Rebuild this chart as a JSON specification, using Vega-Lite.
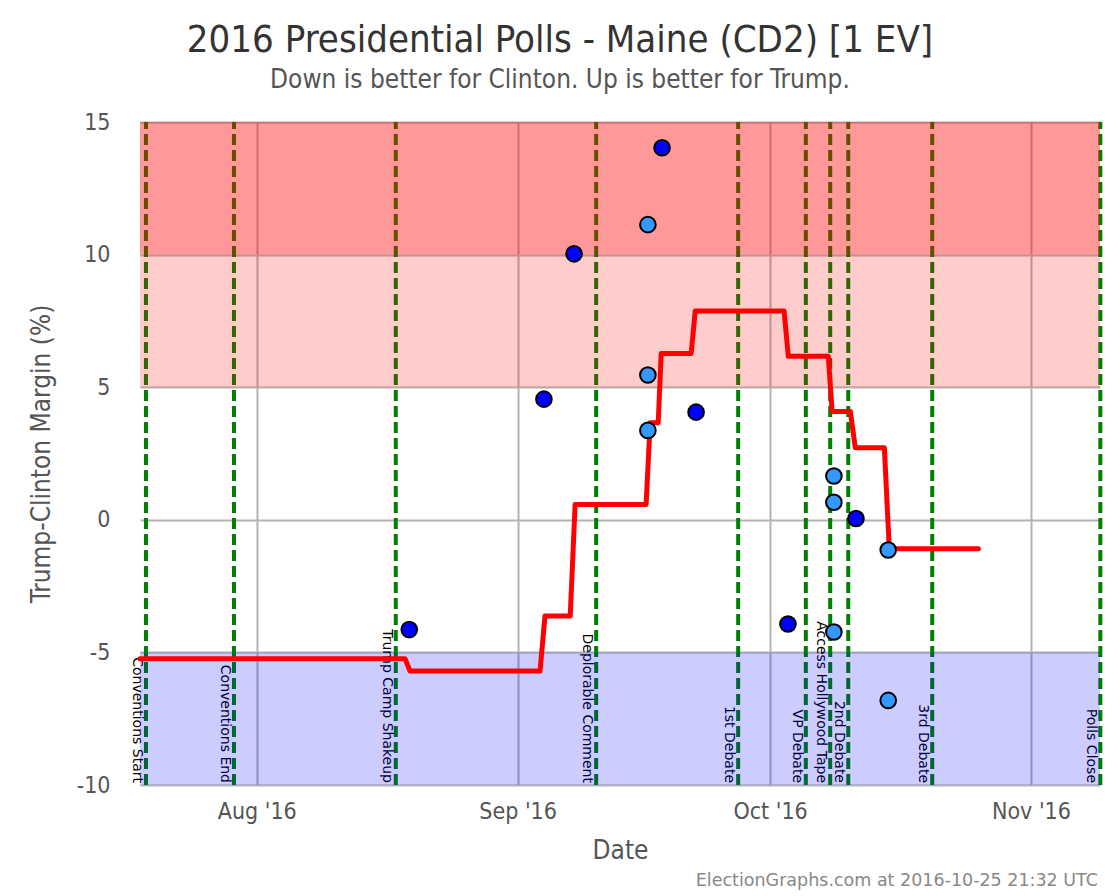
{
  "$schema": "https://vega.github.io/schema/vega-lite/v6.json",
  "width": 960,
  "height": 663,
  "autosize": {"type": "none"},
  "padding": {"left": 140, "top": 122, "right": 20, "bottom": 111},
  "background": "white",
  "title": {
    "text": "2016 Presidential Polls - Maine (CD2) [1 EV]",
    "subtitle": "Down is better for Clinton. Up is better for Trump.",
    "anchor": "middle",
    "dx": -60,
    "offset": 18,
    "font": "DejaVu Sans Condensed, Liberation Sans Narrow, sans-serif",
    "fontSize": 38,
    "fontWeight": "normal",
    "color": "#333333",
    "subtitleFont": "DejaVu Sans Condensed, Liberation Sans Narrow, sans-serif",
    "subtitleFontSize": 26,
    "subtitleColor": "#555555",
    "subtitlePadding": 7
  },
  "resolve": {"scale": {"fill": "independent"}},
  "config": {
    "view": {"stroke": null},
    "axisX": {
      "grid": true, "gridColor": "#b3b3b3", "gridWidth": 2,
      "domain": false, "ticks": false,
      "labelFont": "DejaVu Sans Condensed, Liberation Sans Narrow, sans-serif",
      "labelFontSize": 23, "labelColor": "#555555", "labelPadding": 15,
      "titleFont": "DejaVu Sans Condensed, Liberation Sans Narrow, sans-serif",
      "titleFontSize": 26, "titleColor": "#555555", "titleFontWeight": "normal", "titlePadding": 14
    },
    "axisY": {
      "grid": true, "gridColor": "#b3b3b3", "gridWidth": 2,
      "domain": false, "ticks": false,
      "labelFont": "DejaVu Sans Condensed, Liberation Sans Narrow, sans-serif",
      "labelFontSize": 23, "labelColor": "#555555", "labelPadding": 30,
      "titleFont": "DejaVu Sans Condensed, Liberation Sans Narrow, sans-serif",
      "titleFontSize": 26, "titleColor": "#555555", "titleFontWeight": "normal", "titlePadding": 22
    }
  },
  "datasets": {
    "events": [
      {"event": "Conventions Start", "date": "2016-07-18T20:00:00Z"},
      {"event": "Conventions End", "date": "2016-07-29T07:00:00Z"},
      {"event": "Trump Camp Shakeup", "date": "2016-08-17T12:30:00Z"},
      {"event": "Deplorable Comment", "date": "2016-09-10T08:00:00Z"},
      {"event": "1st Debate", "date": "2016-09-27T05:00:00Z"},
      {"event": "VP Debate", "date": "2016-10-05T06:00:00Z"},
      {"event": "Access Hollywood Tape", "date": "2016-10-08T03:30:00Z"},
      {"event": "2nd Debate", "date": "2016-10-10T07:00:00Z"},
      {"event": "3rd Debate", "date": "2016-10-20T06:30:00Z"},
      {"event": "Polls Close", "date": "2016-11-09T06:00:00Z"}
    ],
    "zones": [
      {"zone": "Strong Trump", "lo": 10, "hi": 15},
      {"zone": "Weak Trump", "lo": 5, "hi": 10},
      {"zone": "Weak Clinton", "lo": -10, "hi": -5}
    ],
    "average": [
      {"date": "2016-07-18T03:00:00Z", "margin": -5.24},
      {"date": "2016-08-18T15:00:00Z", "margin": -5.24},
      {"date": "2016-08-19T05:00:00Z", "margin": -5.70},
      {"date": "2016-09-03T16:00:00Z", "margin": -5.70},
      {"date": "2016-09-04T06:00:00Z", "margin": -3.63},
      {"date": "2016-09-07T06:00:00Z", "margin": -3.63},
      {"date": "2016-09-07T20:00:00Z", "margin": 0.58},
      {"date": "2016-09-16T06:30:00Z", "margin": 0.58},
      {"date": "2016-09-16T18:00:00Z", "margin": 3.66},
      {"date": "2016-09-17T17:00:00Z", "margin": 3.66},
      {"date": "2016-09-18T01:30:00Z", "margin": 6.27},
      {"date": "2016-09-21T15:00:00Z", "margin": 6.27},
      {"date": "2016-09-22T02:30:00Z", "margin": 7.87},
      {"date": "2016-10-02T16:00:00Z", "margin": 7.87},
      {"date": "2016-10-03T04:00:00Z", "margin": 6.17},
      {"date": "2016-10-07T22:00:00Z", "margin": 6.17},
      {"date": "2016-10-08T09:00:00Z", "margin": 4.08},
      {"date": "2016-10-10T13:00:00Z", "margin": 4.08},
      {"date": "2016-10-11T03:00:00Z", "margin": 2.72},
      {"date": "2016-10-14T14:00:00Z", "margin": 2.72},
      {"date": "2016-10-15T04:00:00Z", "margin": -1.09},
      {"date": "2016-10-25T18:00:00Z", "margin": -1.09}
    ],
    "polls": [
      {"date": "2016-08-19T03:00:00Z", "margin": -4.14, "group": "A"},
      {"date": "2016-09-04T03:00:00Z", "margin": 4.55, "group": "A"},
      {"date": "2016-09-07T17:00:00Z", "margin": 10.03, "group": "A"},
      {"date": "2016-09-16T11:30:00Z", "margin": 3.37, "group": "B"},
      {"date": "2016-09-16T11:30:00Z", "margin": 5.46, "group": "B"},
      {"date": "2016-09-16T11:30:00Z", "margin": 11.13, "group": "B"},
      {"date": "2016-09-18T04:00:00Z", "margin": 14.03, "group": "A"},
      {"date": "2016-09-22T05:00:00Z", "margin": 4.06, "group": "A"},
      {"date": "2016-10-03T03:00:00Z", "margin": -3.93, "group": "A"},
      {"date": "2016-10-08T14:00:00Z", "margin": 1.65, "group": "B"},
      {"date": "2016-10-08T14:00:00Z", "margin": 0.66, "group": "B"},
      {"date": "2016-10-08T14:00:00Z", "margin": -4.23, "group": "B"},
      {"date": "2016-10-11T05:00:00Z", "margin": 0.05, "group": "A"},
      {"date": "2016-10-15T01:00:00Z", "margin": -1.14, "group": "B"},
      {"date": "2016-10-15T01:00:00Z", "margin": -6.81, "group": "B"}
    ]
  },
  "layer": [
    {
      "data": {"name": "events"},
      "mark": {"type": "rule", "stroke": "#008000", "strokeWidth": 4, "strokeDash": [11, 5]},
      "encoding": {
        "x": {
          "field": "date", "type": "temporal", "title": "Date",
          "scale": {"type": "utc", "domain": [
            {"year": 2016, "month": 7, "date": 18, "hours": 3, "utc": true},
            {"year": 2016, "month": 11, "date": 9, "hours": 5, "utc": true}
          ]},
          "axis": {"title": "Date", "format": "%b '%y", "tickCount": {"interval": "month", "step": 1}}
        },
        "y": {
          "datum": -10, "type": "quantitative",
          "title": "Trump-Clinton Margin (%)",
          "scale": {"domain": [-10, 15], "nice": false, "zero": false},
          "axis": {"title": "Trump-Clinton Margin (%)", "values": [-10, -5, 0, 5, 10, 15], "labelExpr": "replace(datum.label, '\u2212', '-')"}
        },
        "y2": {"datum": 15}
      }
    },
    {
      "data": {"name": "events"},
      "mark": {"type": "text", "angle": 90, "align": "right", "baseline": "top", "dx": -2, "dy": 2, "font": "DejaVu Sans", "fontSize": 14, "fill": "black"},
      "encoding": {
        "x": {"field": "date", "type": "temporal", "title": "Date"},
        "y": {"datum": -10, "type": "quantitative", "title": "Trump-Clinton Margin (%)"},
        "text": {"field": "event"}
      }
    },
    {
      "data": {"name": "zones"},
      "mark": {"type": "rect"},
      "encoding": {
        "x": {"datum": {"year": 2016, "month": 7, "date": 18, "hours": 3, "utc": true}, "type": "temporal", "title": "Date"},
        "x2": {"datum": {"year": 2016, "month": 11, "date": 9, "hours": 5, "utc": true}},
        "y": {"field": "lo", "type": "quantitative", "title": "Trump-Clinton Margin (%)"},
        "y2": {"field": "hi"},
        "fill": {
          "field": "zone", "type": "nominal", "legend": null,
          "scale": {"domain": ["Strong Trump", "Weak Trump", "Weak Clinton"], "range": ["rgba(255,0,0,0.4)", "rgba(255,0,0,0.2)", "rgba(0,0,255,0.2)"]}
        }
      }
    },
    {
      "mark": {"type": "rule", "stroke": "black", "strokeWidth": 7},
      "encoding": {"y": {"datum": 0, "type": "quantitative", "title": "Trump-Clinton Margin (%)"}}
    },
    {
      "mark": {"type": "rule", "stroke": "#333333", "strokeWidth": 2},
      "encoding": {"y": {"datum": 0, "type": "quantitative", "title": "Trump-Clinton Margin (%)"}}
    },
    {
      "data": {"name": "average"},
      "mark": {"type": "line", "stroke": "red", "strokeWidth": 5, "strokeCap": "round", "strokeJoin": "round"},
      "encoding": {
        "x": {"field": "date", "type": "temporal", "title": "Date"},
        "y": {"field": "margin", "type": "quantitative", "title": "Trump-Clinton Margin (%)"}
      }
    },
    {
      "data": {"name": "polls"},
      "mark": {"type": "point", "filled": true, "size": 245, "stroke": "black", "strokeWidth": 2, "opacity": 1},
      "encoding": {
        "x": {"field": "date", "type": "temporal", "title": "Date"},
        "y": {"field": "margin", "type": "quantitative", "title": "Trump-Clinton Margin (%)"},
        "fill": {"field": "group", "type": "nominal", "legend": null, "scale": {"domain": ["A", "B"], "range": ["#0000ff", "#3399ff"]}}
      }
    },
    {
      "data": {"values": [{"label": "ElectionGraphs.com at 2016-10-25 21:32 UTC"}]},
      "mark": {"type": "text", "align": "right", "baseline": "middle", "dx": -2, "dy": 96, "font": "DejaVu Sans", "fontSize": 17.5, "fill": "#888888"},
      "encoding": {
        "x": {"datum": {"year": 2016, "month": 11, "date": 9, "hours": 5, "utc": true}, "type": "temporal", "title": "Date"},
        "y": {"datum": -10, "type": "quantitative", "title": "Trump-Clinton Margin (%)"},
        "text": {"field": "label"}
      }
    }
  ]
}
